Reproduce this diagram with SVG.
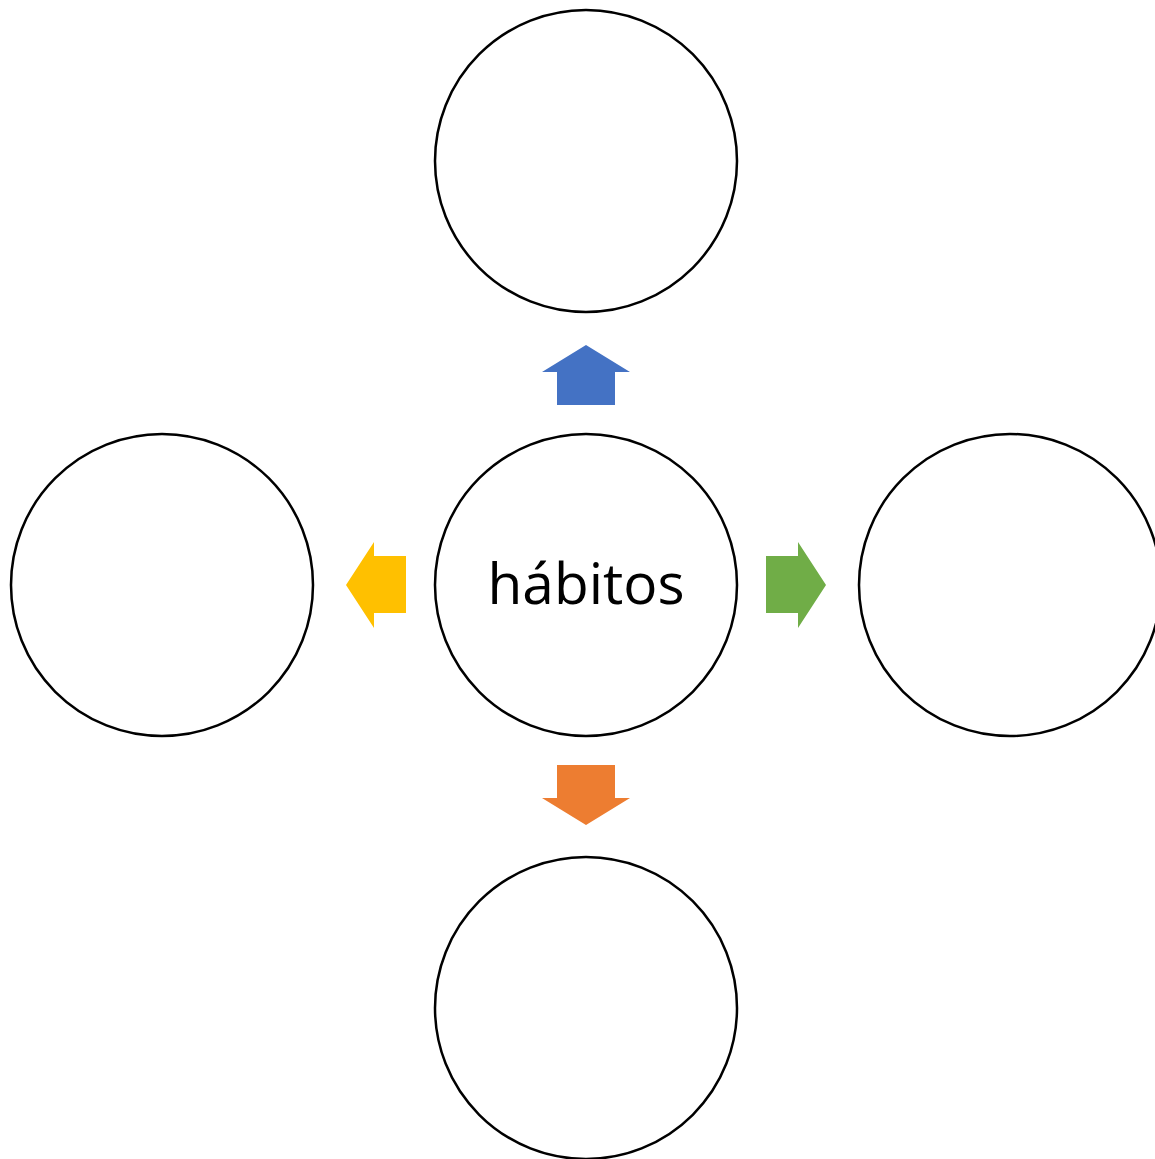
<svg xmlns="http://www.w3.org/2000/svg" width="1155" height="1159" viewBox="0 0 1155 1159">
<style>
.n{fill:#fff;stroke:#000;stroke-width:2.5}
.t{font-family:"Open Sans","Liberation Sans",sans-serif;font-size:56px;fill:#000}
</style>
<rect width="1155" height="1159" fill="#fff"/>
<g id="top"><circle class="n" cx="586" cy="161" r="151"/></g>
<g id="left"><circle class="n" cx="162" cy="585" r="151"/></g>
<g id="right"><circle class="n" cx="1010" cy="585" r="151"/></g>
<g id="bottom"><circle class="n" cx="586" cy="1008" r="151"/></g>
<g id="center"><circle class="n" cx="586" cy="585" r="151"/>
<text class="t" x="586" y="604" text-anchor="middle" textLength="197" lengthAdjust="spacingAndGlyphs">hábitos</text></g>
<g id="connectors">
<polygon fill="#4472C4" points="586,345 630,372 615,372 615,405 557,405 557,372 542,372"/>
<polygon fill="#ED7D31" points="557,765 615,765 615,798 630,798 586,825 542,798 557,798"/>
<polygon fill="#FFC000" points="346,585 374,542 374,556 406,556 406,613 374,613 374,628"/>
<polygon fill="#70AD47" points="766,556 798,556 798,542 826,585 798,628 798,613 766,613"/>
</g>
</svg>
